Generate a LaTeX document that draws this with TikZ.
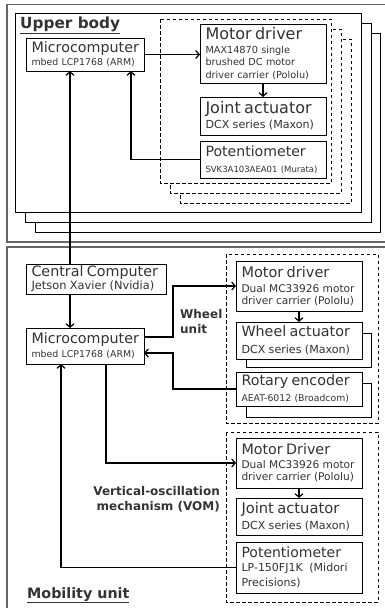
\documentclass[tikz,border=0pt]{standalone}
\usepackage{fontspec}
\setmainfont{DejaVu Sans}
\usetikzlibrary{arrows.meta,calc}
\newcommand\tline[3]{{\fontsize{#1}{#2}\selectfont #3\par}}
\newcommand\mybox[6]{%
  \pgfmathsetmacro\bw{#4-#2}\pgfmathsetmacro\bh{#5-#3}\pgfmathsetmacro\tw{#4-#2-11}%
  \node[box, text width=\tw pt, minimum width=\bw pt, minimum height=\bh pt] (#1) at (#2,#3) {#6};}
\begin{document}
\begin{tikzpicture}[x=1pt,y=-1pt,
  panel/.style={draw=black!60, line width=1.1pt},
  frame/.style={draw=black, line width=0.9pt, fill=white},
  dframe/.style={draw=black, line width=0.9pt, dash pattern=on 3.5pt off 2.5pt, fill=white},
  box/.style={draw=black, line width=0.9pt, fill=white, text=black!80, align=left,
    inner xsep=5.5pt, inner ysep=0pt, outer sep=0pt, anchor=north west},
  arr/.style={line width=1.2pt, -{Straight Barb[length=3.5pt,width=8pt,line width=1.2pt]}},
  lbl/.style={font=\bfseries, text=black!80, inner sep=0pt}
]
\useasboundingbox (0,0) rectangle (385,608);
% panels
\draw[panel] (7,4.5) rectangle (400,242);
\draw[panel] (7,247) rectangle (400,620);
% stacked frames (upper body)
\draw[frame] (35,33) rectangle (380,232);
\draw[frame] (25,23) rectangle (371,222);
\draw[frame] (15,13) rectangle (361,212);
\node[lbl, anchor=base west, font=\fontsize{15.3}{16}\selectfont\bfseries] (ub) at (20,28) {\underline{Upper body}};
% dashed stacks
\draw[dframe] (180,39) rectangle (351,203);
\draw[dframe] (170,29) rectangle (341,193);
\draw[dframe] (160,19) rectangle (331,183);
% upper boxes
\mybox{micro1}{26}{38}{144}{71}{\tline{14.3}{15}{Microcomputer}\tline{9.4}{13}{mbed LCP1768 (ARM)}}
\mybox{md1}{200}{24}{326}{83}{\tline{16}{17}{Motor driver}\tline{9.7}{14}{MAX14870 single}\tline{9.7}{12.5}{brushed DC motor}\tline{9.7}{12.5}{driver carrier (Pololu)}}
\mybox{ja1}{200}{97}{326}{135}{\tline{16}{17}{Joint actuator}\tline{11.1}{15}{DCX series (Maxon)}}
\mybox{pot1}{200}{141}{326}{178}{\tline{14.1}{15}{Potentiometer}\tline{8.5}{16.5}{SVK3A103AEA01 (Murata)}}
% mobility
\node[lbl, anchor=base west, font=\fontsize{14.3}{15}\selectfont\bfseries] (mu) at (27,598) {\underline{Mobility unit}};
\draw[dframe] (226,254) rectangle (378,423);
\draw[dframe] (226,432) rectangle (378,602);
\mybox{cc}{26}{264}{166}{294}{\tline{14.3}{15}{Central Computer}\tline{11.4}{11.5}{Jetson Xavier (Nvidia)}}
\mybox{micro2}{26}{328}{144}{364}{\tline{14.3}{15}{Microcomputer}\tline{9.4}{14}{mbed LCP1768 (ARM)}}
\mybox{md2}{236}{261}{362}{311}{\tline{14.5}{15}{Motor driver}\tline{10.6}{15}{Dual MC33926 motor}\tline{10.6}{12.3}{driver carrier (Pololu)}}
\draw[frame] (246,333) rectangle (371,367);
\mybox{wa}{236}{322}{362}{359}{\tline{14.3}{15}{Wheel actuator}\tline{11.1}{16.5}{DCX series (Maxon)}}
\draw[frame] (246,383) rectangle (371,417);
\mybox{re}{236}{372}{362}{406}{\tline{14.3}{15}{Rotary encoder}\tline{9.3}{16}{AEAT-6012 (Broadcom)}}
\mybox{md3}{236}{438}{362}{488}{\tline{14.3}{15}{Motor Driver}\tline{10.6}{14.5}{Dual MC33926 motor}\tline{10.6}{12}{driver carrier (Pololu)}}
\mybox{ja3}{236}{498}{362}{535}{\tline{14.7}{15}{Joint actuator}\tline{11.1}{16}{DCX series (Maxon)}}
\mybox{pot3}{236}{542}{362}{593}{\tline{14}{15}{Potentiometer}\tline{11}{14.5}{LP-150FJ1K~ (Midori}\tline{11}{15}{Precisions)}}
\node[lbl, anchor=base west, align=left, font=\fontsize{12}{15}\selectfont\bfseries] (wu) at (180,333.3) {Wheel\\unit};
\node[lbl, anchor=base east, align=right, font=\fontsize{12}{15}\selectfont\bfseries] (vom) at (220,510) {Vertical-oscillation\\mechanism (VOM)};
% coordinates
\coordinate (xa) at (70,0);
\coordinate (xw) at (173,0);
\coordinate (xp) at (131,0);
\coordinate (xd) at (106,0);
\coordinate (xv) at (61,0);
% upper connectors
\draw[arr] (micro1.east) -- (micro1.east -| md1.west);
\draw[arr] (md1.south) -- (ja1.north);
\draw[arr] (pot1.west) -| (micro1.south -| xp);
\draw[arr] (cc.north -| xa) -- (micro1.south -| xa);
% mobility connectors
\draw[arr] (cc.south -| xa) -- (micro2.north -| xa);
\coordinate (m2a) at ($(micro2.north east)+(0,9)$);
\draw[arr] (m2a) -- (m2a -| xw) |- (md2.west);
\draw[arr] (md2.south) -- (wa.north);
\coordinate (m2b) at ($(micro2.south east)+(0,-11)$);
\draw[arr] (re.west) -- (re.west -| xw) |- (m2b);
\draw[arr] (micro2.south -| xd) |- (md3.west);
\draw[arr] (md3.south) -- (ja3.north);
\draw[arr] (pot3.west) -| (micro2.south -| xv);
\end{tikzpicture}
\end{document}
